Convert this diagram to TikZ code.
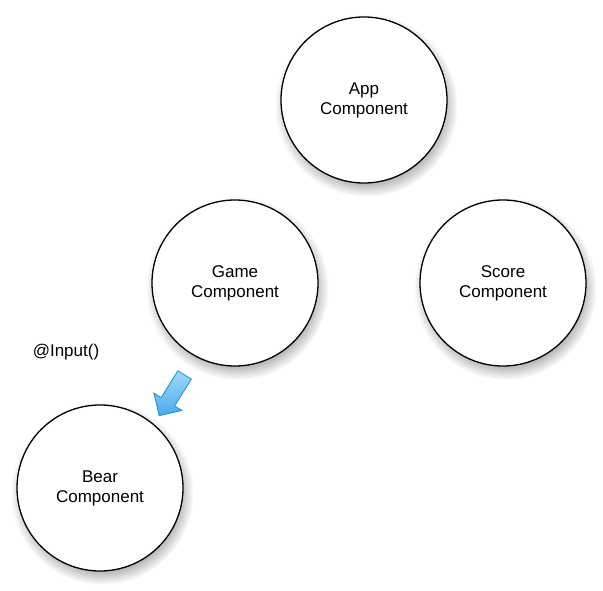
\documentclass[tikz,border=0pt]{standalone}
\usepackage{fontspec}
\setmainfont{Liberation Sans}
\usetikzlibrary{shapes.arrows,shadows}

\definecolor{arrowfill}{RGB}{74,170,235}
\definecolor{arrowlight}{RGB}{160,215,248}
\definecolor{arrowline}{RGB}{25,140,215}

\begin{document}
\begin{tikzpicture}[x=1pt, y=-1pt,
    comp/.style={circle, draw, line width=1.3pt, fill=white, minimum size=166pt,
        inner sep=0pt, align=center, font=\fontsize{17}{20}\selectfont,
        circular drop shadow={shadow xshift=2pt, shadow yshift=-5pt, opacity=.55}},
    inputarrow/.style={single arrow, draw=arrowline, line width=.8pt,
        top color=arrowlight, bottom color=arrowfill, inner sep=0pt,
        text width=0pt, text height=7.5pt, text depth=7.5pt,
        minimum height=48pt, single arrow head extend=8.5pt}]

    \useasboundingbox (0,0) rectangle (603,591);

    \node[comp] (app)   at (364, 100) {App\\Component};   % raiz
    \node[comp] (game)  at (235, 283) {Game\\Component};
    \node[comp] (score) at (503, 283) {Score\\Component};
    \node[comp] (bear)  at (100, 488) {Bear\\Component};

    \node[inputarrow, rotate=238] (inarrow) at (174, 392) {}; % seta azul
    \node[font=\fontsize{17}{20}\selectfont] (input) at (66, 352) {@Input()};

\end{tikzpicture}
\end{document}
